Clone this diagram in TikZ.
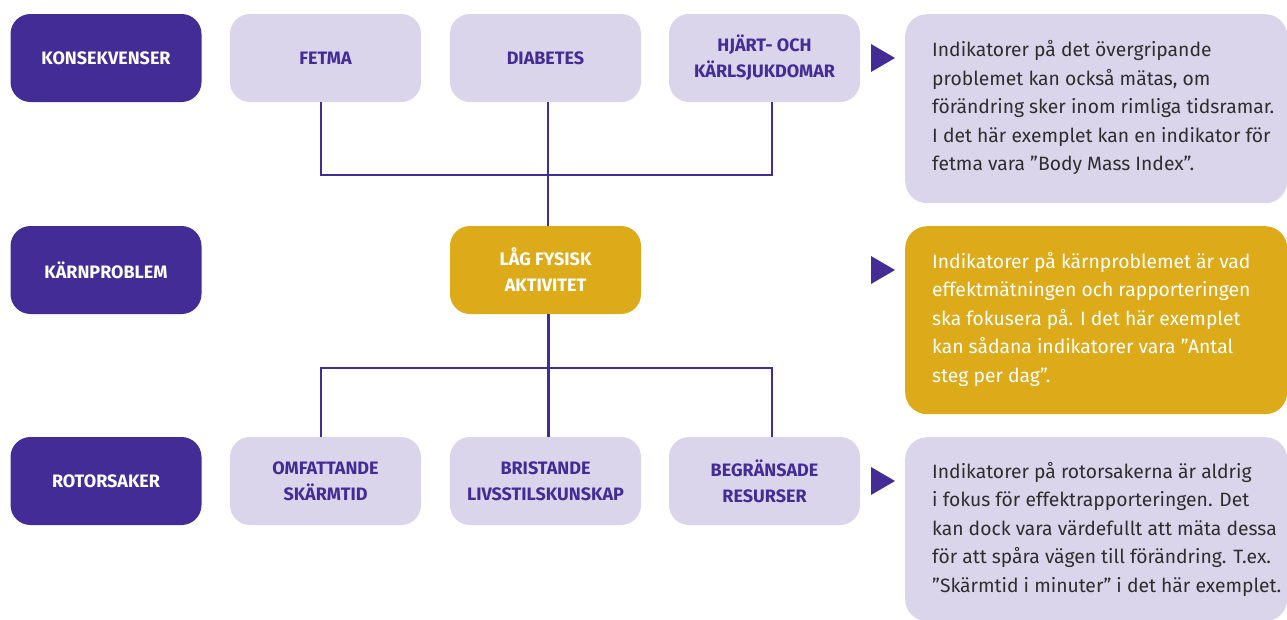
\documentclass[tikz,border=0pt]{standalone}
\usepackage{fontspec}
\setmainfont{Fira Sans}
\definecolor{brandpurple}{HTML}{432C96}
\definecolor{lavender}{HTML}{DAD5EB}
\definecolor{gold}{HTML}{DDAA1A}
\definecolor{bodytext}{HTML}{2E2E2E}
\tikzset{
  box/.style={rounded corners=20pt, minimum width=191pt, minimum height=88pt,
    inner sep=0pt, align=center, font=\fontsize{18}{26}\selectfont\bfseries},
  rowlabel/.style={box, fill=brandpurple, text=white},
  item/.style={box, fill=lavender, text=brandpurple},
  core/.style={box, fill=gold, text=white},
  notebox/.style={rounded corners=22pt, minimum width=382pt, inner sep=0pt, anchor=north west},
  notetext/.style={anchor=west, align=left, inner sep=0pt,
    font=\fontsize{19.3}{28.5}\selectfont},
  wire/.style={draw=brandpurple, line width=2.4pt},
  marker/.style={fill=brandpurple},
}
\begin{document}
\begin{tikzpicture}[x=1pt, y=-1pt]
\fill[white] (0,0) rectangle (1287,619);
\useasboundingbox (0,0) rectangle (1287,619);

% row labels
\node[rowlabel] (konsekvenser) at (106,58)  {KONSEKVENSER};
\node[rowlabel] (karnproblem)  at (106,270) {KÄRNPROBLEM};
\node[rowlabel] (rotorsaker)   at (106,481) {ROTORSAKER};

% consequences
\node[item] (fetma)    at (325.5,58) {FETMA};
\node[item] (diabetes) at (545.5,58) {DIABETES};
\node[item] (hjart)    at (764.5,58) {HJÄRT- OCH\\KÄRLSJUKDOMAR};

% core problem
\node[core] (lag) at (545.5,270) {LÅG FYSISK\\AKTIVITET};

% root causes
\node[item] (skarmtid) at (325.5,481) {OMFATTANDE\\SKÄRMTID};
\node[item] (kunskap)  at (545.5,481) {BRISTANDE\\LIVSSTILSKUNSKAP};
\node[item] (resurser) at (764.5,481) {BEGRÄNSADE\\RESURSER};

% tree connectors
\coordinate (bustop) at (548,175);
\coordinate (busbot) at (548,368);
\draw[wire] ([xshift=-4.5pt]fetma.south) |- (bustop) -| ([xshift=7.5pt]hjart.south);
\draw[wire] ([xshift=2.5pt]diabetes.south) -- ([xshift=2.5pt]lag.north);
\draw[wire] ([xshift=3pt]lag.south) -- ([xshift=3pt]kunskap.north);
\draw[wire] ([xshift=-4.5pt]skarmtid.north) |- (busbot) -| ([xshift=7.5pt]resurser.north);

% explanation boxes
\node[notebox, fill=lavender, minimum height=189pt] (note1) at (905,14) {};
\node[notetext, text=bodytext] at ([xshift=27pt,yshift=1pt]note1.west) {Indikatorer på det övergripande\\problemet kan också mätas, om\\förändring sker inom rimliga tidsramar.\\I det här exemplet kan en indikator för\\fetma vara ”Body Mass Index”.};

\node[notebox, fill=gold, minimum height=188pt] (note2) at (905,226) {};
\node[notetext, text=white] at ([xshift=27pt,yshift=1pt]note2.west) {Indikatorer på kärnproblemet är vad\\effektmätningen och rapporteringen\\ska fokusera på. I det här exemplet\\kan sådana indikatorer vara ”Antal\\steg per dag”.};

\node[notebox, fill=lavender, minimum height=184pt] (note3) at (905,437) {};
\node[notetext, text=bodytext] at ([xshift=27pt]note3.west) {Indikatorer på rotorsakerna är aldrig\\i fokus för effektrapporteringen. Det\\kan dock vara värdefullt att mäta dessa\\för att spåra vägen till förändring. T.ex.\\”Skärmtid i minuter” i det här exemplet.};

% pointers towards the explanations
\fill[marker] (871,44) -- (895,58) -- (871,72) -- cycle;
\fill[marker] (871,256) -- (895,270) -- (871,284) -- cycle;
\fill[marker] (871,467) -- (895,481) -- (871,495) -- cycle;
\end{tikzpicture}
\end{document}
